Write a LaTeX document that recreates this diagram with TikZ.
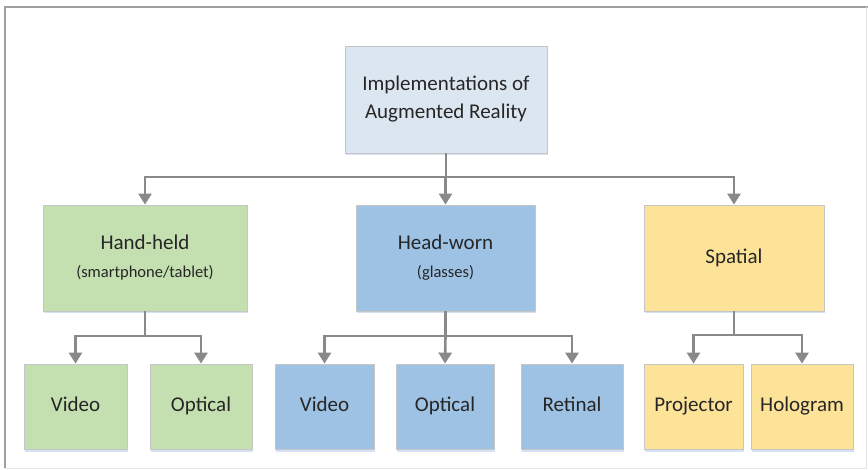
\documentclass[tikz,border=0pt]{standalone}
\usepackage{fontspec}
\setmainfont{Carlito}
\usepackage{tikz}
\definecolor{rootblue}{RGB}{220,230,241}
\definecolor{handgreen}{RGB}{196,223,176}
\definecolor{headblue}{RGB}{157,194,228}
\definecolor{spatialyellow}{RGB}{253,227,152}
\definecolor{linkgray}{RGB}{137,137,137}
\definecolor{textgray}{RGB}{38,38,38}
\definecolor{shadowblue}{RGB}{214,226,243}
\usetikzlibrary{arrows.meta}
\usetikzlibrary{shadows}

\begin{document}
\begin{tikzpicture}[x=1pt,y=-1pt,
    box/.style={draw=gray!45, line width=0.8pt, text=textgray, align=center,
        inner sep=0pt, font=\fontsize{21}{28}\selectfont,
        drop shadow={shadow xshift=1pt, shadow yshift=-2.5pt, fill=shadowblue, opacity=1}},
    top/.style={box, fill=#1, minimum width=180pt, minimum height=106pt},
    leaf/.style={box, fill=#1, minimum width=100pt, minimum height=85pt,
        text height=14pt, text depth=5pt},
    link/.style={draw=linkgray, line width=2.6pt, -{Triangle[width=13pt,length=11pt]}},
    bus/.style={draw=linkgray, line width=2.6pt}
]
\useasboundingbox (0,0) rectangle (868,470);
\draw[gray!75, line width=2pt] (5,468) -- (5,7) -- (868,7);
\draw[gray!20, line width=1pt] (5,468) -- (866,468) -- (866,7);

\node[box, fill=rootblue, minimum width=202pt, minimum height=107pt] (root) at (446,99.5)
    {Implementations of\\Augmented Reality};

\node[top=handgreen, minimum width=204pt] (hand) at (145,258)
    {Hand-held\\[0pt]{\fontsize{16.5}{20}\selectfont (smartphone/tablet)}};
\node[top=headblue, minimum width=179pt] (head) at (445.5,258)
    {Head-worn\\[0pt]{\fontsize{16.5}{20}\selectfont (glasses)}};
\node[top=spatialyellow] (spatial) at (734,258) {Spatial};

\node[leaf=handgreen, minimum width=103pt] (hvideo) at (75.5,406.5) {Video};
\node[leaf=handgreen, minimum width=102pt] (hoptical) at (201,406.5) {Optical};
\node[leaf=headblue, minimum width=99pt] (gvideo) at (324.5,406.5) {Video};
\node[leaf=headblue, minimum width=98pt] (goptical) at (445,406.5) {Optical};
\node[leaf=headblue, minimum width=102pt] (gretinal) at (572,406.5) {Retinal};
\node[leaf=spatialyellow, minimum width=99pt] (sprojector) at (693.5,406.5) {Projector};
\node[leaf=spatialyellow, minimum width=102pt] (shologram) at (802,406.5) {Hologram};

\coordinate (rootbus) at (446,177);
\coordinate (handbus) at (145,336);
\coordinate (headbus) at (445.5,336);
\coordinate (spatialbus) at (734,335);

\draw[bus] (root.south) -- (rootbus);
\draw[link] (rootbus) -| (hand.north);
\draw[link] (rootbus) -| (spatial.north);
\draw[link] (rootbus) -- (rootbus -| head.north) -- (head.north);

\draw[bus] (hand.south) -- (handbus);
\draw[link] (handbus) -| (hvideo.north);
\draw[link] (handbus) -| (hoptical.north);

\draw[bus] (head.south) -- (headbus);
\draw[link] (headbus) -| (gvideo.north);
\draw[link] (headbus) -- (goptical.north);
\draw[link] (headbus) -| (gretinal.north);

\draw[bus] (spatial.south) -- (spatialbus);
\draw[link] (spatialbus) -| (sprojector.north);
\draw[link] (spatialbus) -| (shologram.north);
\end{tikzpicture}
\end{document}
